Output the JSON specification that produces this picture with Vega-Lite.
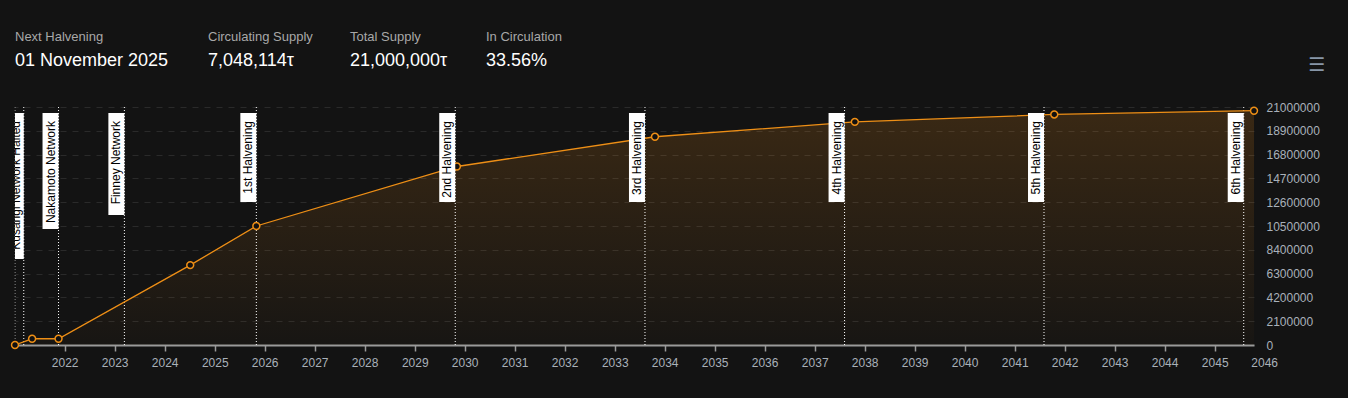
{
  "$schema": "https://vega.github.io/schema/vega-lite/v6.json",
  "background": "#131313",
  "padding": {"left": 8, "top": 30, "right": 10, "bottom": 30},
  "spacing": 16,
  "config": {
    "view": {"stroke": null},
    "font": "Liberation Sans",
    "title": {
      "anchor": "start",
      "font": "Liberation Sans",
      "fontSize": 13,
      "fontWeight": "normal",
      "color": "#a8a8a8",
      "subtitleFont": "Liberation Sans",
      "subtitleFontSize": 18,
      "subtitleColor": "#ffffff",
      "subtitlePadding": 8,
      "offset": 0
    }
  },
  "vconcat": [
    {
      "spacing": 0,
      "hconcat": [
        {"width": 193, "height": 1, "data": {"values": [{}]}, "mark": {"type": "text", "text": ""}, "title": {"text": "Next Halvening", "subtitle": "01 November 2025"}},
        {"width": 142, "height": 1, "data": {"values": [{}]}, "mark": {"type": "text", "text": ""}, "title": {"text": "Circulating Supply", "subtitle": "7,048,114τ"}},
        {"width": 136, "height": 1, "data": {"values": [{}]}, "mark": {"type": "text", "text": ""}, "title": {"text": "Total Supply", "subtitle": "21,000,000τ"}},
        {"width": 822, "height": 1, "data": {"values": [{}]}, "mark": {"type": "text", "text": ""}, "title": {"text": "In Circulation", "subtitle": "33.56%"}},
        {"width": 30, "height": 1, "data": {"values": [{}]}, "mark": {"type": "text", "text": ""}, "title": {"text": "☰", "font": "DejaVu Sans", "fontSize": 19, "color": "#8796a8", "dy": 5}}
      ]
    },
    {
      "width": 1239,
      "height": 238,
      "layer": [
        {
          "data": {"values": [
            {"date": "2021-01-03", "supply": 0},
            {"date": "2021-05-08", "supply": 550000},
            {"date": "2021-11-17", "supply": 550000},
            {"date": "2024-07-06", "supply": 7048114},
            {"date": "2025-11-01", "supply": 10500000},
            {"date": "2029-11-05", "supply": 15750000},
            {"date": "2033-10-22", "supply": 18375000},
            {"date": "2037-10-21", "supply": 19687500},
            {"date": "2041-10-17", "supply": 20343750},
            {"date": "2045-10-15", "supply": 20671875}
          ]},
          "mark": {
            "type": "area",
            "color": {
              "gradient": "linear", "x1": 0, "y1": 0, "x2": 0, "y2": 1,
              "stops": [
                {"offset": 0, "color": "rgba(247,147,26,0.17)"},
                {"offset": 1, "color": "rgba(247,147,26,0.02)"}
              ]
            }
          },
          "encoding": {
            "x": {
              "field": "date", "type": "temporal",
              "scale": {"domain": ["2021-01-03", "2045-10-15"], "nice": false},
              "axis": {
                "title": null,
                "grid": false,
                "format": "%Y",
                "tickCount": 40,
                "values": [{"year": 2022}, {"year": 2023}, {"year": 2024}, {"year": 2025}, {"year": 2026}, {"year": 2027}, {"year": 2028}, {"year": 2029}, {"year": 2030}, {"year": 2031}, {"year": 2032}, {"year": 2033}, {"year": 2034}, {"year": 2035}, {"year": 2036}, {"year": 2037}, {"year": 2038}, {"year": 2039}, {"year": 2040}, {"year": 2041}, {"year": 2042}, {"year": 2043}, {"year": 2044}, {"year": 2045}],
                "domainColor": "#9a9a9a",
                "domainWidth": 2,
                "tickColor": "#9a9a9a",
                "tickWidth": 1.5,
                "tickSize": 6,
                "labelColor": "#a9b1ba",
                "labelFont": "Liberation Sans",
                "labelFontSize": 12,
                "labelPadding": 6,
                "labelFlush": false,
                "labelOverlap": false
              }
            },
            "y": {
              "field": "supply", "type": "quantitative",
              "scale": {"domain": [0, 21000000], "nice": false},
              "axis": {
                "title": null,
                "orient": "right",
                "tickCount": 20,
                "values": [0, 2100000, 4200000, 6300000, 8400000, 10500000, 12600000, 14700000, 16800000, 18900000, 21000000],
                "format": "d",
                "domain": false,
                "ticks": false,
                "labelPadding": 12,
                "labelColor": "#a9b1ba",
                "labelFont": "Liberation Sans",
                "labelFontSize": 12,
                "labelOverlap": false,
                "grid": true,
                "gridColor": "#2a2a2a",
                "gridDash": [6, 6]
              }
            }
          }
        },
        {
          "data": {"values": [{"year": "2046-01-01", "text": "2046"}]},
          "mark": {"type": "text", "baseline": "top", "align": "center", "fontSize": 12, "font": "Liberation Sans", "color": "#a9b1ba", "yOffset": 13},
          "encoding": {
            "x": {"field": "year", "type": "temporal"},
            "y": {"datum": 0},
            "text": {"field": "text"}
          }
        },
        {
          "data": {"values": [
            {"date": "2021-01-04", "label": ""},
            {"date": "2021-03-08", "label": "Kusangi Network Halted"},
            {"date": "2021-11-17", "label": "Nakamoto Network"},
            {"date": "2023-03-13", "label": "Finney Network"},
            {"date": "2025-11-01", "label": "1st Halvening"},
            {"date": "2029-10-24", "label": "2nd Halvening"},
            {"date": "2033-08-10", "label": "3rd Halvening"},
            {"date": "2037-08-07", "label": "4th Halvening"},
            {"date": "2041-08-03", "label": "5th Halvening"},
            {"date": "2045-08-01", "label": "6th Halvening"}
          ]},
          "mark": {"type": "rule", "strokeDash": [1, 2], "strokeWidth": 1},
          "encoding": {
            "x": {"field": "date", "type": "temporal"},
            "color": {"condition": {"test": "datum.label == ''", "value": "#8a8a8a"}, "value": "#ffffff"}
          }
        },
        {
          "data": {"values": [
            {"date": "2021-01-03", "supply": 0},
            {"date": "2021-05-08", "supply": 550000},
            {"date": "2021-11-17", "supply": 550000},
            {"date": "2024-07-06", "supply": 7048114},
            {"date": "2025-11-01", "supply": 10500000},
            {"date": "2029-11-05", "supply": 15750000},
            {"date": "2033-10-22", "supply": 18375000},
            {"date": "2037-10-21", "supply": 19687500},
            {"date": "2041-10-17", "supply": 20343750},
            {"date": "2045-10-15", "supply": 20671875}
          ]},
          "layer": [
            {
              "mark": {"type": "line", "color": "#ee8f16", "strokeWidth": 1.3},
              "encoding": {
                "x": {"field": "date", "type": "temporal"},
                "y": {"field": "supply", "type": "quantitative"}
              }
            },
            {
              "mark": {"type": "point", "shape": "circle", "filled": true, "fill": "#111111", "stroke": "#ee8f16", "strokeWidth": 1.5, "size": 48, "opacity": 1},
              "encoding": {
                "x": {"field": "date", "type": "temporal"},
                "y": {"field": "supply", "type": "quantitative"}
              }
            }
          ]
        },
        {
          "data": {"values": [
            {"date": "2021-03-08", "label": "Kusangi Network Halted"},
            {"date": "2021-11-17", "label": "Nakamoto Network"},
            {"date": "2023-03-13", "label": "Finney Network"},
            {"date": "2025-11-01", "label": "1st Halvening"},
            {"date": "2029-10-24", "label": "2nd Halvening"},
            {"date": "2033-08-10", "label": "3rd Halvening"},
            {"date": "2037-08-07", "label": "4th Halvening"},
            {"date": "2041-08-03", "label": "5th Halvening"},
            {"date": "2045-08-01", "label": "6th Halvening"}
          ]},
          "layer": [
            {
              "mark": {"type": "rule", "color": "#ffffff", "strokeWidth": 16, "strokeCap": "butt", "xOffset": -8, "clip": true},
              "encoding": {
                "x": {"field": "date", "type": "temporal"},
                "y": {"datum": 20470000},
                "y2": {"value": {"expr": "6 + 5 * length(datum.label) + 4 * length(replace(datum.label, regexp('[^A-Zmw]', 'g'), '')) + 20"}}
              }
            },
            {
              "mark": {"type": "text", "angle": 270, "align": "right", "baseline": "middle", "fontSize": 12, "font": "Liberation Sans", "color": "#000000", "xOffset": -8, "clip": true},
              "encoding": {
                "x": {"field": "date", "type": "temporal"},
                "y": {"datum": 19765000},
                "text": {"field": "label"}
              }
            }
          ]
        }
      ]
    }
  ]
}
